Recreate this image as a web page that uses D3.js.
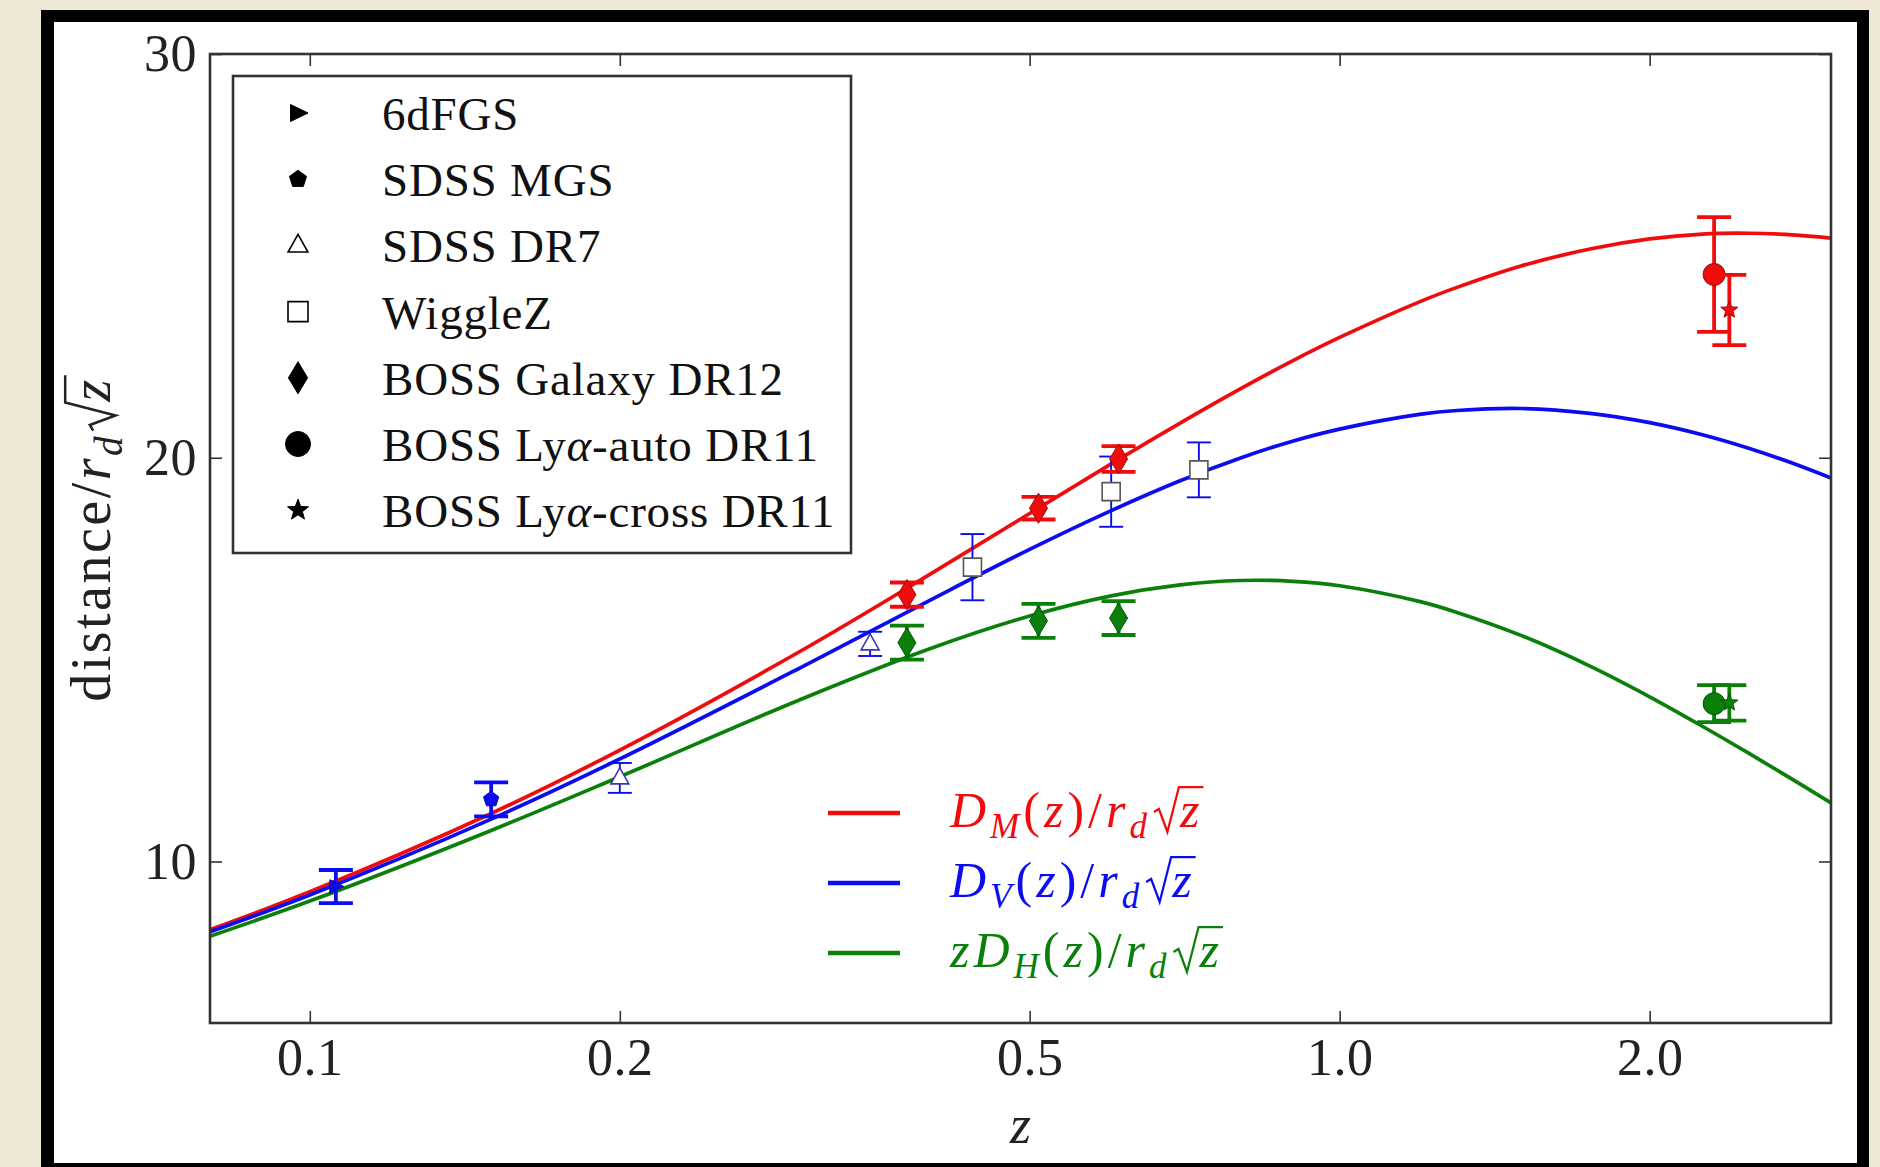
<!DOCTYPE html>
<html>
<head>
<meta charset="utf-8">
<title>BAO distances</title>
<script src="https://cdn.jsdelivr.net/npm/d3@7"></script>
<style>
  body { margin: 0; background: #efe8d4; }
  text { font-family: "Liberation Serif", "DejaVu Serif", serif; }
</style>
</head>
<body>
<svg id="chart" width="1880" height="1167"></svg>
<script>
// ---- model curves ----
var zGrid   = [0.08, 0.1, 0.15, 0.2, 0.3, 0.4, 0.5, 0.6, 0.7, 0.8, 0.9, 1.0, 1.2, 1.3, 1.5, 1.75, 2.0, 2.25, 2.5, 2.75, 3.0];
var dmCurve = [8.31, 9.25, 11.19, 12.76, 15.22, 17.11, 18.62, 19.85, 20.86, 21.70, 22.40, 22.98, 23.88, 24.22, 24.75, 25.17, 25.42, 25.54, 25.56, 25.52, 25.44];
var dvCurve = [8.26, 9.17, 11.05, 12.54, 14.81, 16.47, 17.73, 18.69, 19.43, 19.99, 20.41, 20.71, 21.08, 21.17, 21.22, 21.10, 20.87, 20.57, 20.23, 19.87, 19.50];
var dhCurve = [8.15, 9.02, 10.77, 12.10, 14.02, 15.27, 16.08, 16.58, 16.85, 16.96, 16.94, 16.83, 16.43, 16.17, 15.60, 14.84, 14.08, 13.35, 12.67, 12.04, 11.45];

// ---- measurements ----
var surveys = ["6dFGS", "SDSS MGS", "SDSS DR7", "WiggleZ", "BOSS Galaxy DR12", "BOSS Lyα-auto DR11", "BOSS Lyα-cross DR11"];

var dvZ   = [0.106, 0.15, 0.2, 0.35, 0.44, 0.6, 0.73];
var dvVal = [9.38, 11.54, 12.07, 15.39, 17.29, 19.16, 19.70];
var dvErr = [0.41, 0.42, 0.37, 0.30, 0.82, 0.87, 0.68];
var dvSrc = [0, 1, 2, 2, 3, 3, 3];

var dmZ   = [0.38, 0.51, 0.61, 2.31, 2.39];
var dmVal = [16.61, 18.75, 19.97, 24.54, 23.66];
var dmErr = [0.30, 0.28, 0.32, 1.42, 0.87];
var dmSrc = [4, 4, 4, 5, 6];

var dhZ   = [0.38, 0.51, 0.61, 2.31, 2.39];
var dhVal = [15.42, 15.96, 16.03, 13.91, 13.93];
var dhErr = [0.42, 0.42, 0.42, 0.46, 0.44];
var dhSrc = [4, 4, 4, 5, 6];

var xTicks = [0.1, 0.2, 0.5, 1.0, 2.0];
var yTicks = [10, 20, 30];

var RED = "#f00c0c", BLUE = "#0c0cf0", GREEN = "#0a800a";

// marker look for each survey (same order as surveys)
var markerKind = ["triR", "pent", "tri", "square", "thinD", "circle", "star"];
var markerSize = [8, 8, 10, 9, 15, 11, 9];
var legendSize = [10, 9, 11, 10, 16, 12.5, 11];
var openMarker = [false, false, true, true, false, false, false];
var thickBar   = [true, true, false, false, true, true, true];

var svg = d3.select("#chart");

// page frame
svg.append("rect").attr("width", 1880).attr("height", 1167).attr("fill", "#efe8d4");
svg.append("rect").attr("x", 41).attr("y", 10).attr("width", 1828).attr("height", 1180).attr("fill", "#000");
svg.append("rect").attr("x", 54).attr("y", 22).attr("width", 1803).attr("height", 1141).attr("fill", "#fff");

var L = 210, R = 1831, T = 54, B = 1023;
var x = d3.scaleLog().domain([0.08, 3.0]).range([L, R]);
var y = d3.scaleLinear().domain([6, 30]).range([B, T]);

function polyPath(n, r, rot) {
  var pts = [];
  for (var k = 0; k < n; k++) {
    var a = rot + k * 2 * Math.PI / n;
    pts.push([r * Math.cos(a), r * Math.sin(a)]);
  }
  return "M" + pts.map(function(p){ return p[0].toFixed(2) + "," + p[1].toFixed(2); }).join("L") + "Z";
}

function markerPath(kind, r) {
  if (kind == "triR") return "M" + (-0.75*r) + "," + (-0.85*r) + "L" + r + ",0L" + (-0.75*r) + "," + (0.85*r) + "Z";
  if (kind == "pent") return polyPath(5, r, -Math.PI/2);
  if (kind == "tri") return "M0," + (-r) + "L" + (0.9*r) + "," + (0.6*r) + "L" + (-0.9*r) + "," + (0.6*r) + "Z";
  if (kind == "square") return "M" + (-r) + "," + (-r) + "h" + (2*r) + "v" + (2*r) + "h" + (-2*r) + "Z";
  if (kind == "thinD") return "M0," + (-r) + "L" + (0.6*r) + ",0L0," + r + "L" + (-0.6*r) + ",0Z";
  if (kind == "circle") return "M" + r + ",0A" + r + "," + r + " 0 1 1 " + (-r) + ",0A" + r + "," + r + " 0 1 1 " + r + ",0Z";
  // star
  var pts = [];
  for (var k = 0; k < 10; k++) {
    var a = -Math.PI/2 + k * Math.PI / 5, rr = (k % 2) ? r * 0.42 : r;
    pts.push([rr * Math.cos(a), rr * Math.sin(a)]);
  }
  return "M" + pts.map(function(p){ return p[0].toFixed(2) + "," + p[1].toFixed(2); }).join("L") + "Z";
}

// ---- axes ----
function styleAxis(g) {
  g.select(".domain").remove();
  g.selectAll(".tick line").attr("stroke", "#333").attr("stroke-width", 1.6);
  g.selectAll(".tick text").attr("font-size", 52).attr("fill", "#222").attr("letter-spacing", 0.5);
}
svg.append("g").attr("transform", "translate(0," + B + ")")
  .call(d3.axisBottom(x).tickValues(xTicks).tickFormat(d3.format(".1f")).tickSize(-12).tickPadding(15))
  .call(styleAxis);
svg.append("g").attr("transform", "translate(0," + T + ")")
  .call(d3.axisTop(x).tickValues(xTicks).tickFormat("").tickSize(-12))
  .call(styleAxis);
svg.append("g").attr("transform", "translate(" + L + ",0)")
  .call(d3.axisLeft(y).tickValues(yTicks).tickFormat(d3.format("d")).tickSize(-12).tickPadding(13))
  .call(styleAxis);
svg.append("g").attr("transform", "translate(" + R + ",0)")
  .call(d3.axisRight(y).tickValues(yTicks).tickFormat("").tickSize(-12))
  .call(styleAxis);

// ---- curves ----
svg.append("clipPath").attr("id", "plotclip").append("rect")
  .attr("x", L).attr("y", T).attr("width", R - L).attr("height", B - T);
var plot = svg.append("g").attr("clip-path", "url(#plotclip)");

var line = d3.line().x(function(d){ return x(d[0]); }).y(function(d){ return y(d[1]); })
  .curve(d3.curveCatmullRom.alpha(0.5));
[[dmCurve, RED], [dvCurve, BLUE], [dhCurve, GREEN]].forEach(function(c) {
  plot.append("path")
    .datum(zGrid.map(function(z, i){ return [z, c[0][i]]; }))
    .attr("d", line).attr("fill", "none").attr("stroke", c[1]).attr("stroke-width", 3.7);
});

// ---- data points with error bars ----
function drawPoints(zs, vals, errs, src, color) {
  zs.forEach(function(z, i) {
    var s = src[i], px = x(z), lo = y(vals[i] - errs[i]), hi = y(vals[i] + errs[i]);
    var thick = thickBar[s], w = thick ? 3.8 : 1.9, cap = thick ? 17 : 12;
    var g = plot.append("g");
    g.append("line").attr("x1", px).attr("x2", px).attr("y1", lo).attr("y2", hi)
      .attr("stroke", color).attr("stroke-width", w);
    [lo, hi].forEach(function(yy) {
      g.append("line").attr("x1", px - cap).attr("x2", px + cap).attr("y1", yy).attr("y2", yy)
        .attr("stroke", color).attr("stroke-width", w);
    });
    var open = openMarker[s];
    g.append("path").attr("d", markerPath(markerKind[s], markerSize[s]))
      .attr("transform", "translate(" + px + "," + y(vals[i]) + ")")
      .attr("fill", open ? "#fff" : color)
      .attr("stroke", open ? (s == 2 ? "#3a3ab0" : "#555") : d3.color(color).darker(1.2))
      .attr("stroke-width", open ? 1.6 : 1);
  });
}
drawPoints(dvZ, dvVal, dvErr, dvSrc, BLUE);
drawPoints(dmZ, dmVal, dmErr, dmSrc, RED);
drawPoints(dhZ, dhVal, dhErr, dhSrc, GREEN);

// frame of the axes
svg.append("rect").attr("x", L).attr("y", T).attr("width", R - L).attr("height", B - T)
  .attr("fill", "none").attr("stroke", "#333").attr("stroke-width", 2.6);

// ---- marker legend ----
var leg = svg.append("g");
leg.append("rect").attr("x", 233).attr("y", 76).attr("width", 618).attr("height", 477)
  .attr("fill", "#fff").attr("stroke", "#333").attr("stroke-width", 2.6);
surveys.forEach(function(name, i) {
  var cy = 113 + i * 66.2;
  leg.append("path").attr("d", markerPath(markerKind[i], legendSize[i]))
    .attr("transform", "translate(298," + cy + ")")
    .attr("fill", openMarker[i] ? "#fff" : "#000")
    .attr("stroke", "#000").attr("stroke-width", openMarker[i] ? 1.6 : 1);
  var t = leg.append("text").attr("x", 382).attr("y", cy).attr("dy", "0.36em")
    .attr("font-size", 47).attr("letter-spacing", 0.8).attr("fill", "#111");
  var bits = name.split("α");
  t.append("tspan").text(bits[0]);
  if (bits.length > 1) {
    t.append("tspan").attr("font-style", "italic").text("α");
    t.append("tspan").text(bits[1]);
  }
});

// ---- math text helper (with a drawn radical over z) ----
function mathText(parent, x0, y0, parts, size, color, spacing) {
  var g = parent.append("g").attr("transform", "translate(" + x0 + "," + y0 + ")");
  var t = g.append("text").attr("font-size", size).attr("fill", color).attr("letter-spacing", spacing);
  var shift = 0;
  parts.forEach(function(p) {
    var target = p.sub ? size * 0.22 : 0;
    var s = t.append("tspan").text(p.t).attr("dy", target - shift);
    shift = target;
    if (p.i) s.attr("font-style", "italic");
    if (p.sub) s.attr("font-size", size * 0.7);
  });
  var w = t.node().getComputedTextLength();
  var r0 = w + size * 0.06;
  var zt = g.append("text").attr("font-size", size).attr("fill", color)
    .attr("font-style", "italic").attr("x", r0 + size * 0.52).text("z");
  var zw = zt.node().getComputedTextLength();
  var top = -size * 0.8;
  g.append("path")
    .attr("d", "M" + r0 + "," + (-size * 0.3) + "L" + (r0 + size * 0.1) + "," + (-size * 0.36) +
      "L" + (r0 + size * 0.27) + "," + (size * 0.1) + "L" + (r0 + size * 0.5) + "," + top +
      "L" + (r0 + size * 0.6 + zw) + "," + top)
    .attr("fill", "none").attr("stroke", color).attr("stroke-width", size * 0.045)
    .attr("stroke-linejoin", "miter");
  return { g: g, width: r0 + size * 0.6 + zw };
}

// ---- curve legend ----
var curveLabels = [
  [{t: "D", i: 1}, {t: "M", i: 1, sub: 1}, {t: "("}, {t: "z", i: 1}, {t: ")/"}, {t: "r", i: 1}, {t: "d", i: 1, sub: 1}],
  [{t: "D", i: 1}, {t: "V", i: 1, sub: 1}, {t: "("}, {t: "z", i: 1}, {t: ")/"}, {t: "r", i: 1}, {t: "d", i: 1, sub: 1}],
  [{t: "zD", i: 1}, {t: "H", i: 1, sub: 1}, {t: "("}, {t: "z", i: 1}, {t: ")/"}, {t: "r", i: 1}, {t: "d", i: 1, sub: 1}]
];
[RED, BLUE, GREEN].forEach(function(c, i) {
  var ly = 813 + i * 70;
  svg.append("line").attr("x1", 828).attr("x2", 900).attr("y1", ly).attr("y2", ly)
    .attr("stroke", c).attr("stroke-width", 4.4);
  mathText(svg, 950, ly + 14, curveLabels[i], 50, c, 4);
});

// ---- axis titles ----
svg.append("text").attr("x", (L + R) / 2).attr("y", 1143).attr("text-anchor", "middle")
  .attr("font-size", 54).attr("font-style", "italic").attr("fill", "#222").text("z");

var yl = svg.append("g").attr("transform", "translate(110," + ((T + B) / 2) + ") rotate(-90)");
var ylab = mathText(yl, 0, 0, [{t: "distance/"}, {t: "r", i: 1}, {t: "d", i: 1, sub: 1}], 56, "#222", 2.5);
ylab.g.attr("transform", "translate(" + (-ylab.width / 2) + ",0)");
</script>
</body>
</html>
